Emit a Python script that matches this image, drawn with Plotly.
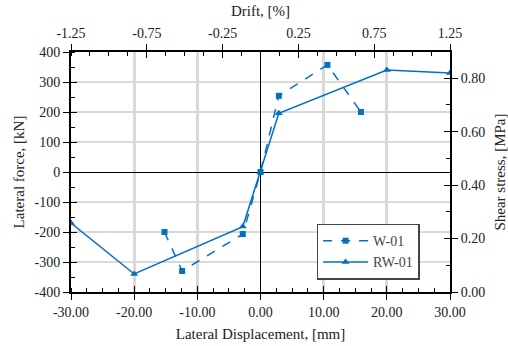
import plotly.graph_objects as go

# Data
w01_disp = [-15.2, -12.4, -2.8, 0.0, 2.9, 10.6, 15.9]
w01_force = [-200, -330, -207, 0, 254, 357, 200]
rw01_disp = [-30.0, -20.0, -2.8, 0.0, 2.9, 20.0, 30.0]
rw01_force = [-170, -340, -182, 0, 196, 340, 330]

x_ticks = [-30, -20, -10, 0, 10, 20, 30]
x_ticktext = ["-30.00", "-20.00", "-10.00", "0.00", "10.00", "20.00", "30.00"]
y_ticks = [-400, -300, -200, -100, 0, 100, 200, 300, 400]
y_ticktext = ["-400", "-300", "-200", "-100", "0", "100", "200", "300", "400"]
drift_ticks = [-1.25, -0.75, -0.25, 0.25, 0.75, 1.25]
drift_ticktext = ["-1.25", "-0.75", "-0.25", "0.25", "0.75", "1.25"]
stress_ticks = [0.0, 0.2, 0.4, 0.6, 0.8]
stress_ticktext = ["0.00", "0.20", "0.40", "0.60", "0.80"]

x_range = [-30, 30]
y_range = [-400, 400]
drift_range = [-1.25, 1.25]
stress_range = [0, 0.898]

blue = "#0070C0"
FAM = "Liberation Serif"
tickfont = dict(family=FAM, size=14, color="#222")
titlefont = dict(family=FAM, size=15, color="#222")

fig = go.Figure()
fig.add_trace(go.Scatter(
    x=w01_disp, y=w01_force, name="W-01", mode="lines+markers",
    line=dict(color=blue, width=1.5, dash="dash"),
    marker=dict(symbol="square", size=6, color=blue),
))
fig.add_trace(go.Scatter(
    x=rw01_disp, y=rw01_force, name="RW-01", mode="lines+markers",
    line=dict(color=blue, width=1.5),
    marker=dict(symbol="triangle-up", size=7, color=blue),
))
# invisible traces to activate secondary / helper axes
for xa, ya in [("x2", "y"), ("x", "y2"), ("x3", "y3"), ("x4", "y4")]:
    fig.add_trace(go.Scatter(x=[None], y=[None], xaxis=xa, yaxis=ya, showlegend=False,
                             mode="markers", hoverinfo="skip"))

minor_common = dict(ticks="inside", ticklen=4, tickcolor="black", tickwidth=1, showgrid=False)
axis_common = dict(showline=True, linecolor="black", linewidth=2,
                   ticks="outside", ticklen=6, tickcolor="black", tickwidth=1,
                   tickfont=tickfont, automargin=False)
inner_common = dict(showline=False, ticks="inside", ticklen=6, tickcolor="black",
                    tickwidth=1, showticklabels=False, showgrid=False, zeroline=False,
                    automargin=False)

fig.update_layout(
    width=508, height=346,
    margin=dict(l=71, r=58, t=52, b=54),
    plot_bgcolor="white", paper_bgcolor="white",
    font=dict(family=FAM, size=14, color="#222"),
    showlegend=True,
    legend=dict(
        x=0.648, y=0.285, xanchor="left", yanchor="top",
        bordercolor="#444", borderwidth=1.5, bgcolor="white",
        font=dict(family=FAM, size=14, color="#444"),
        tracegroupgap=6, itemwidth=45,
    ),
    xaxis=dict(
        range=x_range, tickvals=x_ticks, ticktext=x_ticktext,
        showgrid=True, gridcolor="#d9d9d9", gridwidth=2.5,
        zeroline=True, zerolinecolor="black", zerolinewidth=1,
        minor=dict(dtick=2.5, **minor_common),
        title=dict(text="Lateral Displacement, [mm]", font=titlefont, standoff=10),
        **axis_common,
    ),
    xaxis2=dict(
        range=drift_range, overlaying="x", side="top",
        tickvals=drift_ticks, ticktext=drift_ticktext,
        showgrid=False, zeroline=False,
        minor=dict(dtick=0.125, tick0=-1.25, **minor_common),
        title=dict(text="Drift, [%]", font=titlefont, standoff=6),
        **axis_common,
    ),
    xaxis3=dict(range=x_range, overlaying="x", side="bottom", tickvals=x_ticks, **inner_common),
    xaxis4=dict(range=drift_range, overlaying="x", side="top", tickvals=drift_ticks, **inner_common),
    yaxis=dict(
        range=y_range, tickvals=y_ticks, ticktext=y_ticktext,
        showgrid=True, gridcolor="#d9d9d9", gridwidth=1.5,
        zeroline=True, zerolinecolor="black", zerolinewidth=1,
        minor=dict(dtick=50, **minor_common),
        title=dict(text="Lateral force, [kN]", font=titlefont, standoff=6),
        **axis_common,
    ),
    yaxis2=dict(
        range=stress_range, overlaying="y", side="right",
        tickvals=stress_ticks, ticktext=stress_ticktext,
        showgrid=False, zeroline=False,
        minor=dict(dtick=0.1, **minor_common),
        title=dict(text="Shear stress, [MPa]", font=titlefont, standoff=10),
        **axis_common,
    ),
    yaxis3=dict(range=y_range, overlaying="y", side="left", tickvals=y_ticks, **inner_common),
    yaxis4=dict(range=stress_range, overlaying="y", side="right", tickvals=stress_ticks, **inner_common),
)

fig.write_html("out.html")
